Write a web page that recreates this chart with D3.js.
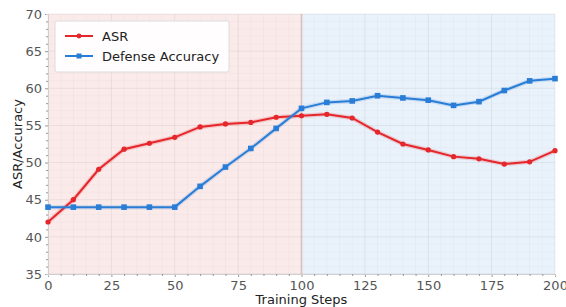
<!DOCTYPE html>
<html>
<head>
<meta charset="utf-8">
<script src="https://cdn.jsdelivr.net/npm/d3@7"></script>
<style>
  body { margin: 0; background: #fff; }
  svg { display: block; font-family: "DejaVu Sans", sans-serif; }
</style>
</head>
<body>
<div id="chart"></div>
<script>
// data
const steps = [0, 10, 20, 30, 40, 50, 60, 70, 80, 90, 100, 110, 120, 130, 140, 150, 160, 170, 180, 190, 200];
const asr = [42.0, 45.0, 49.1, 51.8, 52.6, 53.4, 54.8, 55.2, 55.4, 56.1, 56.3, 56.5, 56.0, 54.1, 52.5, 51.7, 50.8, 50.5, 49.8, 50.1, 51.6];
const defenseAcc = [44.0, 44.0, 44.0, 44.0, 44.0, 44.0, 46.8, 49.4, 51.9, 54.6, 57.3, 58.1, 58.3, 59.0, 58.7, 58.4, 57.7, 58.2, 59.7, 61.0, 61.3];
const xTicks = [0, 25, 50, 75, 100, 125, 150, 175, 200];
const yTicks = [35, 40, 45, 50, 55, 60, 65, 70];
const phases = [
    { from: 0, to: 100, color: "#fbeaea" },
    { from: 100, to: 200, color: "#e9f1fa" }
];
const seriesList = [
    { name: "ASR", values: asr, color: "#e5262b", marker: "circle" },
    { name: "Defense Accuracy", values: defenseAcc, color: "#2a7dd6", marker: "square" }
];

const W = 566, H = 307;
const margin = { top: 14, right: 11, bottom: 33, left: 48 };
const width = W - margin.left - margin.right;
const height = H - margin.top - margin.bottom;

const svg = d3.select("#chart").append("svg")
    .attr("width", W).attr("height", H)
    .append("g")
    .attr("transform", `translate(${margin.left},${margin.top})`);

const x = d3.scaleLinear().domain([0, 200]).range([0, width]);
const y = d3.scaleLinear().domain([35, 70]).range([height, 0]);

// shaded phases
svg.selectAll("rect.phase")
    .data(phases)
    .join("rect")
    .attr("class", "phase")
    .attr("x", d => x(d.from))
    .attr("width", d => x(d.to) - x(d.from))
    .attr("y", 0)
    .attr("height", height)
    .attr("fill", d => d.color);

// divider at 100
svg.append("line")
    .attr("x1", x(100)).attr("x2", x(100))
    .attr("y1", 0).attr("y2", height)
    .attr("stroke", "#e6cfd2").attr("stroke-width", 2);

// grid: minor then major
const grid = svg.append("g");
grid.selectAll("line.mx").data(d3.range(0, 201, 5)).join("line")
    .attr("x1", d => x(d)).attr("x2", d => x(d))
    .attr("y1", 0).attr("y2", height)
    .attr("stroke", "#000").attr("stroke-opacity", 0.025);
grid.selectAll("line.my").data(d3.range(35, 71, 1)).join("line")
    .attr("x1", 0).attr("x2", width)
    .attr("y1", d => y(d)).attr("y2", d => y(d))
    .attr("stroke", "#000").attr("stroke-opacity", 0.025);
grid.selectAll("line.gx").data(xTicks).join("line")
    .attr("x1", d => x(d)).attr("x2", d => x(d))
    .attr("y1", 0).attr("y2", height)
    .attr("stroke", "#000").attr("stroke-opacity", 0.04);
grid.selectAll("line.gy").data(yTicks).join("line")
    .attr("x1", 0).attr("x2", width)
    .attr("y1", d => y(d)).attr("y2", d => y(d))
    .attr("stroke", "#000").attr("stroke-opacity", 0.04);

// axes
const xAxis = svg.append("g")
    .attr("transform", `translate(0,${height})`)
    .call(d3.axisBottom(x).tickValues(xTicks).tickSize(3).tickPadding(4));
const xMinor = svg.append("g")
    .attr("transform", `translate(0,${height})`)
    .call(d3.axisBottom(x).tickValues(d3.range(0, 201, 5).filter(v => v % 25)).tickSize(2).tickFormat(""));
const yAxis = svg.append("g")
    .call(d3.axisLeft(y).tickValues(yTicks).tickSize(3).tickPadding(3));
const yMinor = svg.append("g")
    .call(d3.axisLeft(y).tickValues(d3.range(35, 71, 1).filter(v => v % 5)).tickSize(2).tickFormat(""));

[xAxis, xMinor, yAxis, yMinor].forEach(g => {
    g.select(".domain").attr("stroke", "#cfcfcf");
    g.selectAll(".tick line").attr("stroke", "#999");
    g.selectAll(".tick text").attr("fill", "#555").style("font-size", "13px")
        .style("font-family", "DejaVu Sans, sans-serif");
});

// axis titles
svg.append("text")
    .attr("x", width / 2).attr("y", height + 30)
    .attr("text-anchor", "middle")
    .style("font-size", "13px").attr("fill", "#222")
    .text("Training Steps");
svg.append("text")
    .attr("transform", "rotate(-90)")
    .attr("x", -height / 2).attr("y", -margin.left + 22)
    .attr("text-anchor", "middle")
    .style("font-size", "13px").attr("fill", "#222")
    .text("ASR/Accuracy");

// series
const line = d3.line().x((d, i) => x(steps[i])).y(d => y(d));
seriesList.forEach(s => {
    svg.append("path").datum(s.values)
        .attr("fill", "none").attr("stroke", s.color)
        .attr("stroke-width", 4.5).attr("stroke-opacity", 0.18)
        .attr("d", line);
    svg.append("path").datum(s.values)
        .attr("fill", "none").attr("stroke", s.color)
        .attr("stroke-width", 2)
        .attr("d", line);
    const pts = svg.append("g").selectAll("g").data(s.values).join("g")
        .attr("transform", (d, i) => `translate(${x(steps[i])},${y(d)})`);
    if (s.marker === "circle") {
        pts.append("circle").attr("r", 2.6).attr("fill", s.color);
    } else {
        pts.append("rect").attr("x", -2.8).attr("y", -2.8)
            .attr("width", 5.6).attr("height", 5.6).attr("fill", s.color);
    }
});

// legend
const legend = svg.append("g").attr("transform", "translate(7,7)");
legend.append("rect")
    .attr("width", 174).attr("height", 51).attr("rx", 2)
    .attr("fill", "#fff").attr("fill-opacity", 0.9)
    .attr("stroke", "#ddd");
seriesList.forEach((s, i) => {
    const row = legend.append("g").attr("transform", `translate(10,${15 + i * 20})`);
    row.append("line").attr("x1", 0).attr("x2", 28)
        .attr("stroke", s.color).attr("stroke-width", 2);
    if (s.marker === "circle") {
        row.append("circle").attr("cx", 14).attr("r", 2.4).attr("fill", s.color);
    } else {
        row.append("rect").attr("x", 11.5).attr("y", -2.5).attr("width", 5).attr("height", 5).attr("fill", s.color);
    }
    row.append("text").attr("x", 37).attr("dy", "0.35em")
        .style("font-size", "13px").attr("fill", "#222")
        .text(s.name);
});
</script>
</body>
</html>
